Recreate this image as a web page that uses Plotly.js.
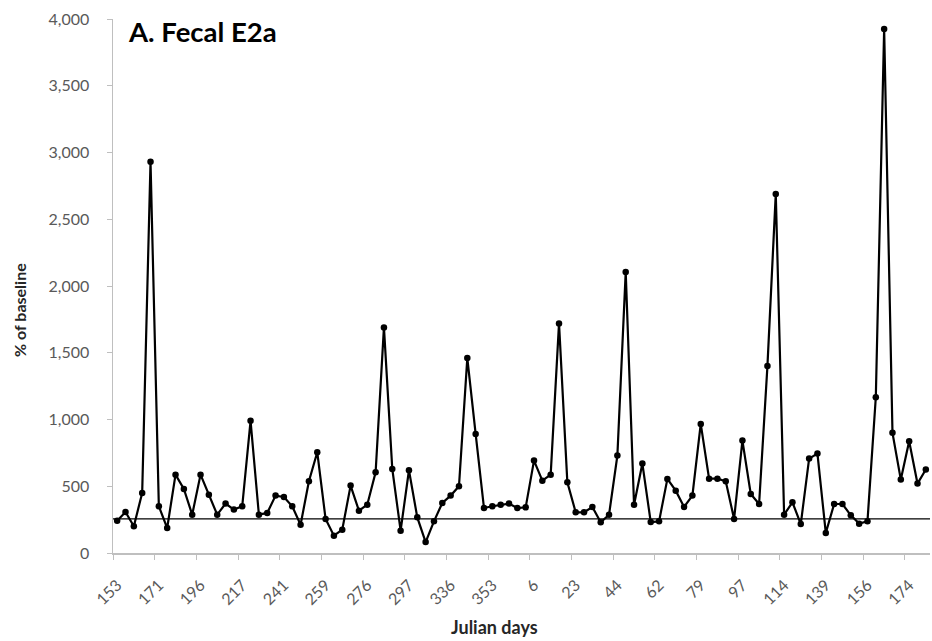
<!DOCTYPE html>
<html>
<head>
<meta charset="utf-8">
<script src="https://cdn.plot.ly/plotly-3.0.1.min.js"></script>
<style>html,body{margin:0;padding:0;background:#fff;}#chart{width:932px;height:641px;}</style>
</head>
<body>
<div id="chart"></div>
<script>
// Tick labels (Julian days), one every 5 samples
const tickLabels = ["153","171","196","217","241","259","276","297","336","353","6","23","44","62","79","97","114","139","156","174"];
const labelEvery = 5;

// Fecal E2a, % of baseline, one value per sample
const e2a = [
  242, 307, 200, 450, 2930, 350, 187, 587, 480, 287,
  587, 437, 287, 370, 325, 350, 990, 287, 300, 430,
  420, 350, 212, 537, 755, 255, 130, 175, 505, 317,
  362, 605, 1690, 630, 167, 620, 267, 82, 237, 375,
  430, 500, 1460, 892, 337, 350, 362, 370, 337, 342,
  692, 542, 587, 1720, 530, 305, 305, 345, 230, 287,
  730, 2105, 362, 670, 232, 237, 555, 467, 345, 430,
  967, 557, 557, 537, 255, 842, 442, 367, 1400, 2690,
  287, 380, 217, 707, 745, 150, 367, 367, 282, 220,
  237, 1167, 3925, 900, 550, 837, 520, 625
];

// Baseline reference level
const baseline = 255;

const idx = e2a.map((_, i) => i);
const tickVals = tickLabels.map((_, k) => k * labelEvery);
const boundaryVals = [];
for (let k = 0; k <= Math.floor(e2a.length / labelEvery); k++) boundaryVals.push(k * labelEvery - 0.5);

const font = "Lato, 'Open Sans', 'Liberation Sans', sans-serif";

const trace = {
  x: idx,
  y: e2a,
  type: 'scatter',
  mode: 'lines+markers',
  line: {color: '#000', width: 2.2},
  marker: {color: '#000', size: 6.5, symbol: 'circle'},
  hoverinfo: 'y'
};

const layout = {
  width: 932,
  height: 641,
  margin: {l: 113, r: 2, t: 19, b: 88},
  paper_bgcolor: '#fff',
  plot_bgcolor: '#fff',
  showlegend: false,
  font: {family: font, color: '#595959', size: 16},
  xaxis: {
    range: [-0.5, e2a.length - 0.5],
    tickmode: 'array',
    tickvals: tickVals,
    ticktext: tickLabels,
    tickangle: -45,
    ticks: '',
    ticklabelstandoff: 15,
    showgrid: false,
    zeroline: false,
    showline: true,
    linecolor: '#bfbfbf',
    linewidth: 1.5,
    tickfont: {family: font, size: 16, color: '#595959'},
    minor: {tickmode: 'array', tickvals: boundaryVals, ticks: 'outside', ticklen: 5, tickcolor: '#bfbfbf', tickwidth: 1, showgrid: false}
  },
  yaxis: {
    range: [0, 4000],
    tickmode: 'linear',
    tick0: 0,
    dtick: 500,
    tickformat: ',d',
    ticks: 'outside',
    ticklen: 5,
    tickcolor: '#bfbfbf',
    ticklabelstandoff: 14,
    showgrid: false,
    zeroline: false,
    showline: true,
    linecolor: '#bfbfbf',
    linewidth: 1.5,
    tickfont: {family: font, size: 16, color: '#595959'}
  },
  shapes: [{
    type: 'line', xref: 'paper', yref: 'y', x0: 0, x1: 1, y0: baseline, y1: baseline,
    line: {color: '#000', width: 1.2}
  }],
  annotations: [
    {text: '<b>A. Fecal E2a</b>', xref: 'paper', yref: 'paper', x: (202 - 113) / 817, y: (553 - 32) / 534, xanchor: 'center', yanchor: 'middle',
     showarrow: false, font: {family: font, size: 27.5, color: '#000'}},
    {text: '<b>Julian days</b>', xref: 'paper', yref: 'paper', x: (494 - 113) / 817, y: 0, xanchor: 'center', yanchor: 'middle',
     yshift: -74, showarrow: false, font: {family: font, size: 18, color: '#262626'}},
    {text: '<b>% of baseline</b>', xref: 'paper', yref: 'paper', x: 0, y: (553 - 310) / 534, xanchor: 'center', yanchor: 'middle',
     xshift: -94, textangle: -90, showarrow: false, font: {family: font, size: 16, color: '#262626'}}
  ]
};

Plotly.newPlot('chart', [trace], layout, {displayModeBar: false, staticPlot: true});
</script>
</body>
</html>
